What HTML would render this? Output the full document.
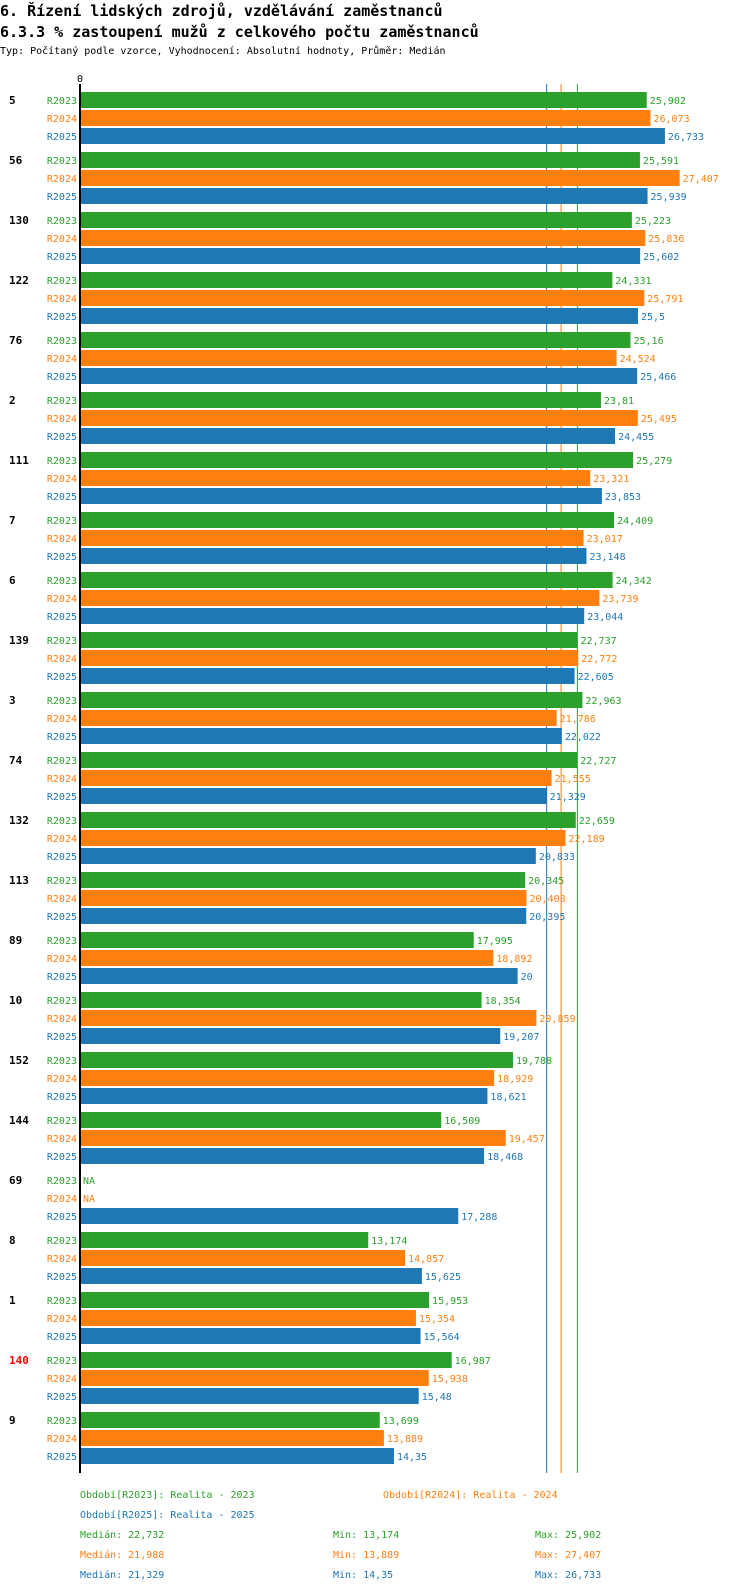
<!DOCTYPE html>
<html><head><meta charset="utf-8"><style>
body{margin:0;width:750px;height:1592px;background:#fff;overflow:hidden;font-family:"DejaVu Sans Mono","Liberation Mono",monospace}
svg{display:block}
</style></head><body>
<svg id="c" width="750" height="1592" xmlns="http://www.w3.org/2000/svg">
<text x="0" y="16" font-size="15" font-weight="bold" font-family="DejaVu Sans Mono,monospace">6. Řízení lidských zdrojů, vzdělávání zaměstnanců</text>
<text x="0" y="37" font-size="15" font-weight="bold" font-family="DejaVu Sans Mono,monospace">6.3.3 % zastoupení mužů z celkového počtu zaměstnanců</text>
<text x="0" y="54" font-size="10" font-family="DejaVu Sans Mono,monospace">Typ: Počítaný podle vzorce, Vyhodnocení: Absolutní hodnoty, Průměr: Medián</text>
</svg>
<script>
const groups=["5","56","130","122","76","2","111","7","6","139","3","74","132","113","89","10","152","144","69","8","1","140","9"];
const series=["R2023","R2024","R2025"];
const v2023=[25.902,25.591,25.223,24.331,25.16,23.81,25.279,24.409,24.342,22.737,22.963,22.727,22.659,20.345,17.995,18.354,19.788,16.509,null,13.174,15.953,16.987,13.699];
const v2024=[26.073,27.407,25.836,25.791,24.524,25.495,23.321,23.017,23.739,22.772,21.786,21.555,22.189,20.408,18.892,20.859,18.929,19.457,null,14.857,15.354,15.938,13.889];
const v2025=[26.733,25.939,25.602,25.5,25.466,24.455,23.853,23.148,23.044,22.605,22.022,21.329,20.833,20.395,20,19.207,18.621,18.468,17.288,15.625,15.564,15.48,14.35];
const medians=[22.732,21.988,21.329];
const mins=[13.174,13.889,14.35];
const maxs=[25.902,27.407,26.733];
const highlight=["140"];
const colors=["#2ca02c","#ff7f0e","#1f77b4"];
const vals=[v2023,v2024,v2025];
const NS="http://www.w3.org/2000/svg";
const svg=document.getElementById('c');
const x0=80,k=21.88;
const X=v=>x0+v*k;
const Y=(g,s)=>100+g*60+s*18;
const fmt=v=>String(v).replace('.',',');
function el(t,a,txt){const e=document.createElementNS(NS,t);for(const n in a)e.setAttribute(n,a[n]);if(txt!=null)e.textContent=txt;svg.appendChild(e);return e;}
medians.forEach((m,i)=>{const l=el('line',{x1:X(m),x2:X(m),y1:84,y2:1473,stroke:colors[i],'stroke-width':1});

});
groups.forEach((g,gi)=>{
 const t=el('text',{x:9,y:Y(gi,0)+4,'font-size':11,'font-weight':'bold',fill:highlight.includes(g)?'#ff0000':'#000'},g);
 
 
 series.forEach((s,si)=>{
  const y=Y(gi,si),v=vals[si][gi];
  const lt=el('text',{x:77,y:y+4,'font-size':10,fill:colors[si],'text-anchor':'end'},s);
  
  
  if(v==null){const na=el('text',{x:x0+3,y:y+4,'font-size':10,fill:colors[si]},'NA');
   
   return;}
  const r=el('rect',{x:x0,y:y-8,width:X(v)-x0,height:16,fill:colors[si]});
  
  
  const vt=el('text',{x:X(v)+3,y:y+4,'font-size':10,fill:colors[si]},fmt(v));
  
  
 });
});
const ax=el('line',{x1:x0,x2:x0,y1:84,y2:1473,stroke:'#000','stroke-width':2});


const z=el('text',{x:x0,y:82,'font-size':10,'text-anchor':'middle'},'0');


const leg=[[80,1498,0,'Období[R2023]: Realita - 2023'],[383,1498,1,'Období[R2024]: Realita - 2024'],[80,1518,2,'Období[R2025]: Realita - 2025']];
leg.forEach(L=>{const t=el('text',{x:L[0],y:L[1],'font-size':10,fill:colors[L[2]]},L[3]);

});
[0,1,2].forEach(i=>{const y=1538+i*20;
 const a=el('text',{x:80,y:y,'font-size':10,fill:colors[i]},'Medián: '+fmt(medians[i]));
 
 
 const b=el('text',{x:333,y:y,'font-size':10,fill:colors[i]},'Min: '+fmt(mins[i]));
 
 
 const c=el('text',{x:535,y:y,'font-size':10,fill:colors[i]},'Max: '+fmt(maxs[i]));
 
 
});
</script>
</body></html>
